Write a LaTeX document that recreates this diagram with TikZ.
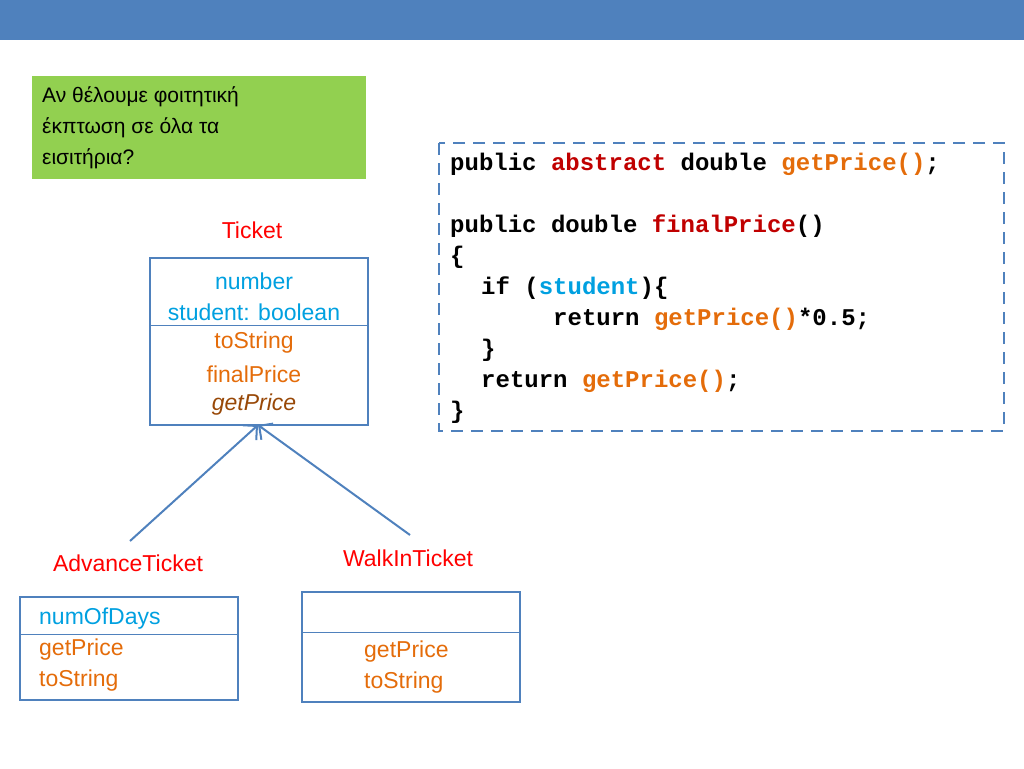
\documentclass[tikz,border=0pt]{standalone}
\usepackage{fontspec}
\setmainfont{Liberation Sans}
\setmonofont{Liberation Mono}
\usetikzlibrary{arrows.meta}
\definecolor{bar}{HTML}{4F81BD}
\definecolor{grn}{HTML}{92D050}
\definecolor{cy}{HTML}{00A0E0}
\definecolor{org}{HTML}{E46C0A}
\definecolor{brn}{HTML}{984807}
\definecolor{dred}{HTML}{C00000}
\begin{document}
\begin{tikzpicture}[x=1pt,y=-1pt,
 txt/.style={font=\fontsize{23}{27}\selectfont,inner sep=0pt},
 cd/.style={font=\fontsize{24}{28}\selectfont\ttfamily\bfseries,inner sep=0pt,anchor=base west},
 box/.style={draw=bar,line width=1.5pt},
 lbl/.style={txt,text=red}]
\useasboundingbox (0,0) rectangle (1024,768);
\fill[bar] (0,0) rectangle (1024,40);
\node[fill=grn,minimum width=334pt,minimum height=103pt,anchor=north west,inner sep=0pt] (g) at (32,76) {};
\node[txt,anchor=north west,align=left,font=\fontsize{21}{31}\selectfont] (gt) at (42,86) {Αν θέλουμε φοιτητική\\έκπτωση σε όλα τα\\εισιτήρια?};
\node[lbl] (tl) at (252,230) {Ticket};
\draw[box] (150,258) rectangle (368,425); \draw[bar,line width=0.8pt] (150,325) -- (368,325);
\coordinate (tb) at (258,425);
\node[txt,text=cy] (t1) at (254,281) {number};
\node[txt,text=cy] (t2) at (254,312) {student: boolean};
\node[txt,text=org] (t3) at (254,343) {toString};
\node[txt,text=org] (t4) at (254,374) {finalPrice};
\node[txt,text=brn,font=\fontsize{23}{27}\selectfont\itshape] (t5) at (254,405) {getPrice};
\coordinate (a1) at (130,541); \coordinate (a2) at (410,535);
\draw[bar,line width=2pt,-{Straight Barb[length=10pt,width=20pt]}] (a1) -- (tb);
\draw[bar,line width=2pt,-{Straight Barb[length=10pt,width=20pt]}] (a2) -- (tb);
\node[lbl] (al) at (128,563) {AdvanceTicket};
\draw[box] (20,597) rectangle (238,700); \draw[bar,line width=0.8pt] (20,634) -- (238,634);
\node[txt,text=cy,anchor=west] (a1t) at (39,619) {numOfDays};
\node[txt,text=org,anchor=west] (a2t) at (39,650) {getPrice};
\node[txt,text=org,anchor=west] (a3t) at (39,681) {toString};
\node[lbl] (wl) at (408,558) {WalkInTicket};
\draw[box] (302,592) rectangle (520,702); \draw[bar,line width=0.8pt] (302,632) -- (520,632);
\node[txt,text=org,anchor=west] (w1) at (364,652) {getPrice};
\node[txt,text=org,anchor=west] (w2) at (364,683) {toString};
\draw[bar,line width=2.5pt,dash pattern=on 12pt off 8pt] (439,143) rectangle (1004,431);
\node[cd] (c1) at (450,170) {public \textcolor{dred}{abstract} double \textcolor{org}{getPrice()};};
\node[cd] (c2) at (450,232) {public double \textcolor{dred}{finalPrice}()};
\node[cd] (c3) at (450,263) {\{};
\node[cd] (c4) at (481,294) {if (\textcolor{cy}{student})\{};
\node[cd] (c5) at (553,325) {return \textcolor{org}{getPrice()}*0.5;};
\node[cd] (c6) at (481,356) {\}};
\node[cd] (c7) at (481,387) {return \textcolor{org}{getPrice()};};
\node[cd] (c8) at (450,418) {\}};
\end{tikzpicture}
\end{document}
